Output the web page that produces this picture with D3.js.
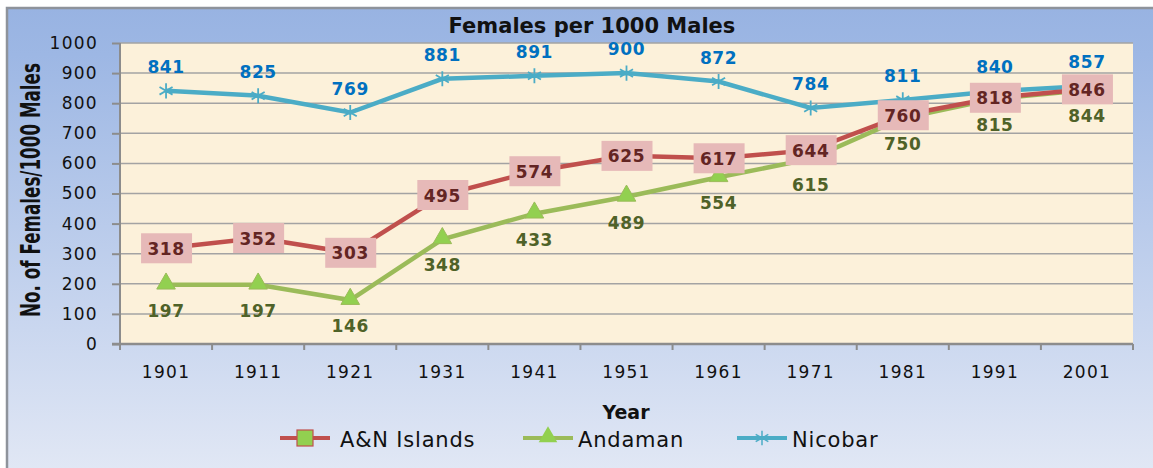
<!DOCTYPE html>
<html>
<head>
<meta charset="utf-8">
<script src="https://cdn.jsdelivr.net/npm/d3@7"></script>
<style>
  body { margin: 0; background: #fff; }
  text { font-family: "DejaVu Sans", Verdana, sans-serif; }
</style>
</head>
<body>
<div id="vis"></div>
<script>
// data
var years = ["1901", "1911", "1921", "1931", "1941", "1951", "1961", "1971", "1981", "1991", "2001"];
var anIslands = [318, 352, 303, 495, 574, 625, 617, 644, 760, 818, 846];
var andaman = [197, 197, 146, 348, 433, 489, 554, 615, 750, 815, 844];
var nicobar = [841, 825, 769, 881, 891, 900, 872, 784, 811, 840, 857];
var yTicks = [0, 100, 200, 300, 400, 500, 600, 700, 800, 900, 1000];

var W = 1153, H = 468;
var margin = {top: 43, right: 20, bottom: 123, left: 120},
    width = 1133 - margin.left,
    height = 344 - margin.top;

var svg = d3.select("#vis").append("svg")
    .attr("width", W)
    .attr("height", H);

var defs = svg.append("defs");
var grad = defs.append("linearGradient")
    .attr("id", "bg").attr("x1", 0).attr("y1", 0).attr("x2", 0).attr("y2", 1);
grad.append("stop").attr("offset", "0%").attr("stop-color", "#98b3e2");
grad.append("stop").attr("offset", "10%").attr("stop-color", "#9db7e4");
grad.append("stop").attr("offset", "100%").attr("stop-color", "#e2e8f5");

// chart frame
svg.append("rect")
    .attr("x", 7).attr("y", 8)
    .attr("width", W).attr("height", H)
    .attr("fill", "url(#bg)")
    .attr("stroke", "#8e939b")
    .attr("stroke-width", 2.5);

var g = svg.append("g")
    .attr("transform", "translate(" + margin.left + "," + margin.top + ")");

// scales
var x = d3.scaleBand().domain(years).range([0, width]);
var y = d3.scaleLinear().domain([0, 1000]).range([height, 0]);
var cx = function(i) { return x(years[i]) + x.bandwidth() / 2; };

// plot area
g.append("rect")
    .attr("width", width).attr("height", height)
    .attr("fill", "#fcf1da");

// grid lines
g.selectAll(".grid")
    .data(yTicks.slice(1))
    .enter().append("line")
    .attr("x1", 0).attr("x2", width)
    .attr("y1", function(d) { return y(d); })
    .attr("y2", function(d) { return y(d); })
    .attr("stroke", "#a3a3a3")
    .attr("stroke-width", 1.5);

// y axis
var yAxis = g.append("g")
    .call(d3.axisLeft(y).tickValues(yTicks).tickFormat(d3.format("d")).tickSize(8).tickPadding(14));
yAxis.selectAll("text").style("font-size", "17px").style("letter-spacing", "1.3px").attr("fill", "#111");
yAxis.selectAll("line, path").attr("stroke", "#8c8c8c").attr("stroke-width", 2);
yAxis.select(".domain").attr("d", "M0," + height + "V0");

// x axis
var xAxis = g.append("g")
    .attr("transform", "translate(0," + height + ")")
    .call(d3.axisBottom(x).tickSize(0).tickPadding(22));
xAxis.selectAll("text").style("font-size", "17px").style("letter-spacing", "1.3px").attr("fill", "#111");
xAxis.select(".domain").attr("d", "M-8,0H" + width).attr("stroke", "#8c8c8c").attr("stroke-width", 2.5);
// tick marks at category boundaries
g.selectAll(".xtick")
    .data(years)
    .enter().append("line")
    .attr("x1", function(d) { return x(d); })
    .attr("x2", function(d) { return x(d); })
    .attr("y1", height).attr("y2", height + 6)
    .attr("stroke", "#8c8c8c").attr("stroke-width", 2);
g.append("line")
    .attr("x1", width).attr("x2", width)
    .attr("y1", height).attr("y2", height + 6)
    .attr("stroke", "#8c8c8c").attr("stroke-width", 2);

var line = d3.line()
    .x(function(d, i) { return cx(i); })
    .y(function(d) { return y(d); });

// lines
g.append("path").attr("d", line(nicobar))
    .attr("fill", "none").attr("stroke", "#4bacc6").attr("stroke-width", 4.5);
g.append("path").attr("d", line(andaman))
    .attr("fill", "none").attr("stroke", "#9bbb59").attr("stroke-width", 4.5);
g.append("path").attr("d", line(anIslands))
    .attr("fill", "none").attr("stroke", "#c0504d").attr("stroke-width", 4.5);

// Nicobar markers (asterisk)
var star = d3.symbol().type(d3.symbolAsterisk).size(160);
g.selectAll(".nic")
    .data(nicobar)
    .enter().append("path")
    .attr("transform", function(d, i) { return "translate(" + cx(i) + "," + y(d) + ")"; })
    .attr("d", star)
    .attr("fill", "none")
    .attr("stroke", "#4bacc6")
    .attr("stroke-width", 1.8);

// Andaman markers (triangle)
var tri = d3.symbol().type(d3.symbolTriangle).size(150);
g.selectAll(".and")
    .data(andaman)
    .enter().append("path")
    .attr("transform", function(d, i) { return "translate(" + cx(i) + "," + (y(d) - 1) + ")"; })
    .attr("d", tri)
    .attr("fill", "#92d050")
    .attr("stroke", "#9bbb59")
    .attr("stroke-width", 1);

// Nicobar labels
g.selectAll(".nicl")
    .data(nicobar)
    .enter().append("text")
    .attr("x", function(d, i) { return cx(i); })
    .attr("y", function(d) { return y(d) - 18; })
    .attr("text-anchor", "middle")
    .style("font-size", "17px").style("font-weight", "bold").style("letter-spacing", "0.6px")
    .attr("fill", "#0070c0")
    .text(function(d) { return d; });

// Andaman labels
g.selectAll(".andl")
    .data(andaman)
    .enter().append("text")
    .attr("x", function(d, i) { return cx(i); })
    .attr("y", function(d) { return y(d) + 32; })
    .attr("text-anchor", "middle")
    .style("font-size", "17px").style("font-weight", "bold").style("letter-spacing", "0.6px")
    .attr("fill", "#4f6228")
    .text(function(d) { return d; });

// A&N Islands labels in boxes
var anl = g.selectAll(".anl")
    .data(anIslands)
    .enter().append("g")
    .attr("transform", function(d, i) { return "translate(" + cx(i) + "," + y(d) + ")"; });
anl.append("rect")
    .attr("x", -25).attr("y", -15)
    .attr("width", 51).attr("height", 30)
    .attr("fill", "#e6b9b8");
anl.append("text")
    .attr("y", 6.5)
    .attr("text-anchor", "middle")
    .style("font-size", "17px").style("font-weight", "bold").style("letter-spacing", "0.6px")
    .attr("fill", "#632523")
    .text(function(d) { return d; });

// title
svg.append("text")
    .attr("x", 592).attr("y", 33)
    .attr("text-anchor", "middle")
    .style("font-size", "21px").style("font-weight", "bold")
    .attr("fill", "#111")
    .text("Females per 1000 Males");

// y axis title - narrow, squeezed to the reference length
var yTitle = svg.append("text")
    .attr("text-anchor", "middle")
    .style("font-size", "26px").style("font-weight", "bold")
    .attr("fill", "#111")
    .text("No. of Females/1000 Males");
var squeeze = 254 / yTitle.node().getComputedTextLength();
yTitle.attr("transform", "translate(40,190) rotate(-90) scale(" + squeeze + ",1)");

svg.append("text")
    .attr("x", 626).attr("y", 419)
    .attr("text-anchor", "middle")
    .style("font-size", "19px").style("font-weight", "bold")
    .attr("fill", "#111")
    .text("Year");

// legend
var legend = [
  {name: "A&N Islands", color: "#c0504d", x: 280},
  {name: "Andaman", color: "#9bbb59", x: 523},
  {name: "Nicobar", color: "#4bacc6", x: 737}
];
var lg = svg.selectAll(".leg")
    .data(legend)
    .enter().append("g")
    .attr("transform", function(d) { return "translate(" + d.x + ",438)"; });
lg.append("line")
    .attr("x1", 0).attr("x2", 50)
    .attr("stroke", function(d) { return d.color; })
    .attr("stroke-width", 4);
lg.append("text")
    .attr("x", function(d, i) { return i === 0 ? 60 : 55; })
    .attr("y", 9)
    .style("font-size", "21px").style("letter-spacing", "0.8px")
    .attr("fill", "#111")
    .text(function(d) { return d.name; });
lg.filter(function(d, i) { return i === 0; }).append("rect")
    .attr("x", 17).attr("y", -8).attr("width", 16).attr("height", 16)
    .attr("fill", "#92d050").attr("stroke", "#c0504d").attr("stroke-width", 1.2);
lg.filter(function(d, i) { return i === 1; }).append("path")
    .attr("transform", "translate(25,-1)")
    .attr("d", d3.symbol().type(d3.symbolTriangle).size(150))
    .attr("fill", "#92d050");
lg.filter(function(d, i) { return i === 2; }).append("path")
    .attr("transform", "translate(25,0)")
    .attr("d", d3.symbol().type(d3.symbolAsterisk).size(150))
    .attr("fill", "none").attr("stroke", "#4bacc6").attr("stroke-width", 1.5);
</script>
</body>
</html>
